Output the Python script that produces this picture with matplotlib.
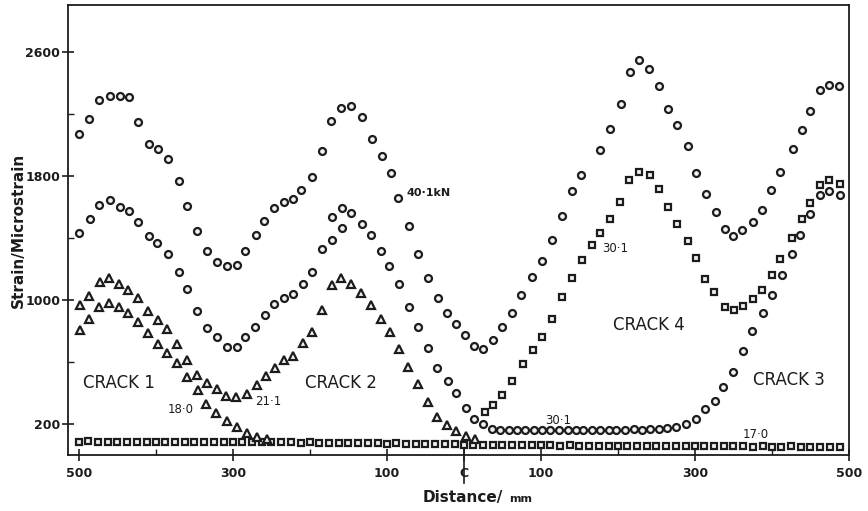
import matplotlib.pyplot as plt

# distances in mm from the centre line (left side negative), strains in microstrain
# 40.1 kN - circles
d40 = [-500, -487, -474, -460, -447, -435, -423, -409, -397, -384, -370, -359, -347, -333,
       -321, -307, -295, -284, -270, -259, -246, -234, -222, -211, -197, -184, -172, -159,
       -147, -132, -119, -106, -95, -85, -71, -59, -47, -33, -22, -10, 1, 13, 25, 38, 50,
       63, 74, 88, 101, 115, 127, 140, 152, 177, 190, 204, 216, 228, 241, 253, 265, 277,
       291, 302, 314, 327, 339, 350, 361, 375, 387, 399, 411, 427, 439, 449, 462, 474, 487]
e40 = [2067, 2164, 2290, 2314, 2314, 2307, 2145, 2003, 1971, 1911, 1765, 1604, 1444, 1317,
       1246, 1221, 1225, 1318, 1418, 1510, 1593, 1630, 1649, 1707, 1793, 1958, 2151, 2236,
       2247, 2179, 2035, 1928, 1821, 1660, 1478, 1296, 1140, 1011, 914, 846, 775, 706, 683,
       743, 828, 918, 1030, 1150, 1251, 1390, 1542, 1701, 1808, 1965, 2104, 2260, 2468,
       2548, 2485, 2376, 2233, 2130, 1992, 1821, 1686, 1568, 1457, 1412, 1450, 1503, 1583,
       1707, 1825, 1971, 2098, 2215, 2355, 2382, 2378]

# 30.1 kN - circles (middle curve on the left, flat run and crack 3 on the right)
d30c = [-500, -486, -474, -460, -447, -435, -423, -409, -398, -384, -370, -360, -346, -333,
        -320, -307, -295, -284, -271, -258, -247, -234, -222, -209, -197, -184, -171, -158,
        -171, -158, -147, -132, -121, -108, -97, -84, -71, -59, -46, -35, -21, -10, 3, 13,
        25, 37, 47, 58, 69, 80, 91, 102, 112, 123, 135, 145, 155, 166, 177, 188, 198, 209,
        221, 231, 242, 253, 264, 276, 288, 301, 313, 326, 337, 349, 362, 374, 388, 400, 413,
        426, 436, 449, 462, 474, 488]
e30c = [1429, 1525, 1615, 1643, 1600, 1574, 1503, 1413, 1365, 1300, 1178, 1069, 929, 818,
        760, 700, 696, 760, 828, 904, 972, 1011, 1037, 1107, 1182, 1332, 1390, 1467,
        1532, 1596, 1561, 1493, 1418, 1317, 1219, 1103, 957, 828, 689, 565, 481, 400, 307, 235,
        203, 170, 166, 164, 164, 164, 166, 164, 164, 166, 164, 164, 166, 164, 164, 166, 164, 166,
        168, 166, 170, 172, 175, 185, 203, 233, 297, 353, 439, 537, 673, 799, 916, 1032, 1161,
        1294, 1418, 1557, 1675, 1703, 1675]

# 30.1 kN - squares (crack 4 side)
d30s = [27, 38, 50, 63, 77, 90, 102, 115, 128, 140, 153, 166, 177, 190, 203, 215, 227, 242,
        253, 265, 277, 291, 302, 313, 325, 339, 351, 362, 375, 387, 400, 411, 426, 439, 449,
        462, 474, 488]
e30s = [282, 325, 389, 479, 587, 679, 760, 878, 1021, 1140, 1257, 1358, 1435, 1525, 1632,
        1776, 1825, 1804, 1718, 1600, 1489, 1381, 1270, 1134, 1053, 957, 936, 963, 1005, 1064,
        1161, 1268, 1401, 1521, 1628, 1744, 1776, 1750]

# 21.1 kN - triangles
d21 = [-498, -487, -473, -461, -448, -436, -423, -410, -397, -385, -373, -360, -346, -333,
       -321, -309, -296, -282, -269, -257, -245, -234, -222, -209, -197, -184, -171, -159,
       -146, -134, -121, -108, -96, -84, -72, -59, -46, -35, -22, -10, 3, 14]
e21 = [968, 1028, 1118, 1140, 1107, 1064, 1011, 929, 871, 812, 717, 614, 518, 468,
       426, 385, 378, 396, 453, 511, 561, 614, 640, 725, 792, 936, 1096, 1140,
       1107, 1047, 968, 878, 796, 683, 567, 460, 346, 250, 196, 160, 126, 104]

# 18.0 kN - triangles
d18 = [-498, -487, -474, -461, -448, -436, -423, -410, -397, -385, -373, -359, -345, -335,
       -322, -308, -295, -282, -269, -256]
e18 = [807, 876, 953, 983, 953, 914, 860, 790, 715, 661, 593, 503, 421, 334,
       271, 223, 185, 147, 121, 104]

# 17.0 kN - base line before cracking
d17 = [-500, -488, -475, -462, -450, -438, -425, -412, -400, -388, -375, -362, -350, -338,
       -325, -312, -300, -288, -275, -262, -250, -238, -225, -212, -200, -188, -175, -162,
       -150, -138, -125, -112, -100, -88, -75, -62, -50, -38, -25, -12, 0, 12, 25, 38, 50,
       62, 75, 88, 100, 112, 125, 138, 150, 162, 175, 188, 200, 212, 225, 238, 250, 262,
       275, 288, 300, 312, 325, 338, 350, 362, 375, 388, 400, 412, 425, 438, 450, 462, 475, 488]
e17 = [89, 90, 88, 89, 89, 87, 88, 89, 88, 87, 88, 88, 86, 87, 88, 86, 87, 86, 85, 86,
       84, 85, 84, 83, 84, 82, 81, 82, 80, 79, 80, 78, 77, 78, 76, 75, 74, 74, 72, 71,
       70, 69, 70, 68, 67, 68, 66, 66, 65, 66, 64, 65, 63, 64, 63, 62, 63, 62, 61, 62,
       60, 61, 60, 61, 59, 60, 59, 58, 59, 58, 57, 58, 57, 57, 58, 56, 57, 57, 56, 57]

xticks = [-500, -300, -100, 0, 100, 300, 500]
xticklabels = ['500', '300', '100', 'C', '100', '300', '500']
yticks = [200, 1000, 1800, 2600]

ink = '#1c1c1c'

fig = plt.figure(figsize=(8.68, 5.11), dpi=100)
ax = fig.add_axes([0.0783, 0.1096, 0.8998, 0.8806])

circ = dict(marker='o', ms=5, mfc='#f2f2f2', mec=ink, mew=1.6, ls='none')
sq = dict(marker='s', ms=4.6, mfc='#f2f2f2', mec=ink, mew=1.6, ls='none')
tri = dict(marker='^', ms=5.2, mfc='#f2f2f2', mec=ink, mew=1.6, ls='none')

ax.plot(d17, e17, **sq)
ax.plot(d40, e40, **circ)
ax.plot(d30c, e30c, **circ)
ax.plot(d30s, e30s, **sq)
ax.plot(d21, e21, **tri)
ax.plot(d18, e18, **tri)

# load labels and crack names
ax.text(-75, 1690, '40·1kN', fontsize=8, fontweight='bold', color=ink, va='center')
ax.text(180, 1332, '30·1', fontsize=8.5, color=ink, va='center')
ax.text(105, 224, '30·1', fontsize=8.5, color=ink, va='center')
ax.text(362, 132, '17·0', fontsize=8.5, color=ink, va='center')
ax.text(-384, 293, '18·0', fontsize=8.5, color=ink, va='center')
ax.text(-271, 346, '21·1', fontsize=8.5, color=ink, va='center')
for x, y, s in [(-495, 464, 'CRACK 1'), (-206, 464, 'CRACK 2'),
                (193, 839, 'CRACK 4'), (375, 486, 'CRACK 3')]:
    ax.text(x, y, s, fontsize=12, color=ink, va='center')

ax.set_xlim(-514, 500)
ax.set_ylim(3, 2900)
ax.set_xticks(xticks)
ax.set_xticklabels(xticklabels)
ax.set_xticks([-400, -200, 200, 400], minor=True)
ax.set_yticks(yticks)
ax.set_yticks([600, 1400, 2200], minor=True)
ax.tick_params(which='major', direction='inout', length=9, width=1.2, color=ink,
               labelsize=9, labelcolor=ink)
ax.tick_params(axis='x', which='major', pad=4)
ax.tick_params(axis='y', which='major', pad=1)
ax.tick_params(which='minor', direction='in', length=4, width=1, color=ink)
for lbl in ax.get_xticklabels() + ax.get_yticklabels():
    lbl.set_fontweight('bold')
for sp in ax.spines.values():
    sp.set_linewidth(1.3)
    sp.set_color(ink)

# centre line mark through the C
ax.plot([0, 0], [-0.062, 0.012], transform=ax.get_xaxis_transform(),
        color=ink, lw=1.2, clip_on=False)

fig.text(18 / 868, 1 - 230 / 511, 'Strain/Microstrain', rotation=90, ha='center',
         va='center', fontsize=11, fontweight='bold', color=ink)
fig.text(423 / 868, 1 - 497 / 511, 'Distance/', ha='left', va='center',
         fontsize=11, fontweight='bold', color=ink)
fig.text(509 / 868, 1 - 499 / 511, 'mm', ha='left', va='center',
         fontsize=8, fontweight='bold', color=ink)

fig.savefig('out.png', dpi=100)
